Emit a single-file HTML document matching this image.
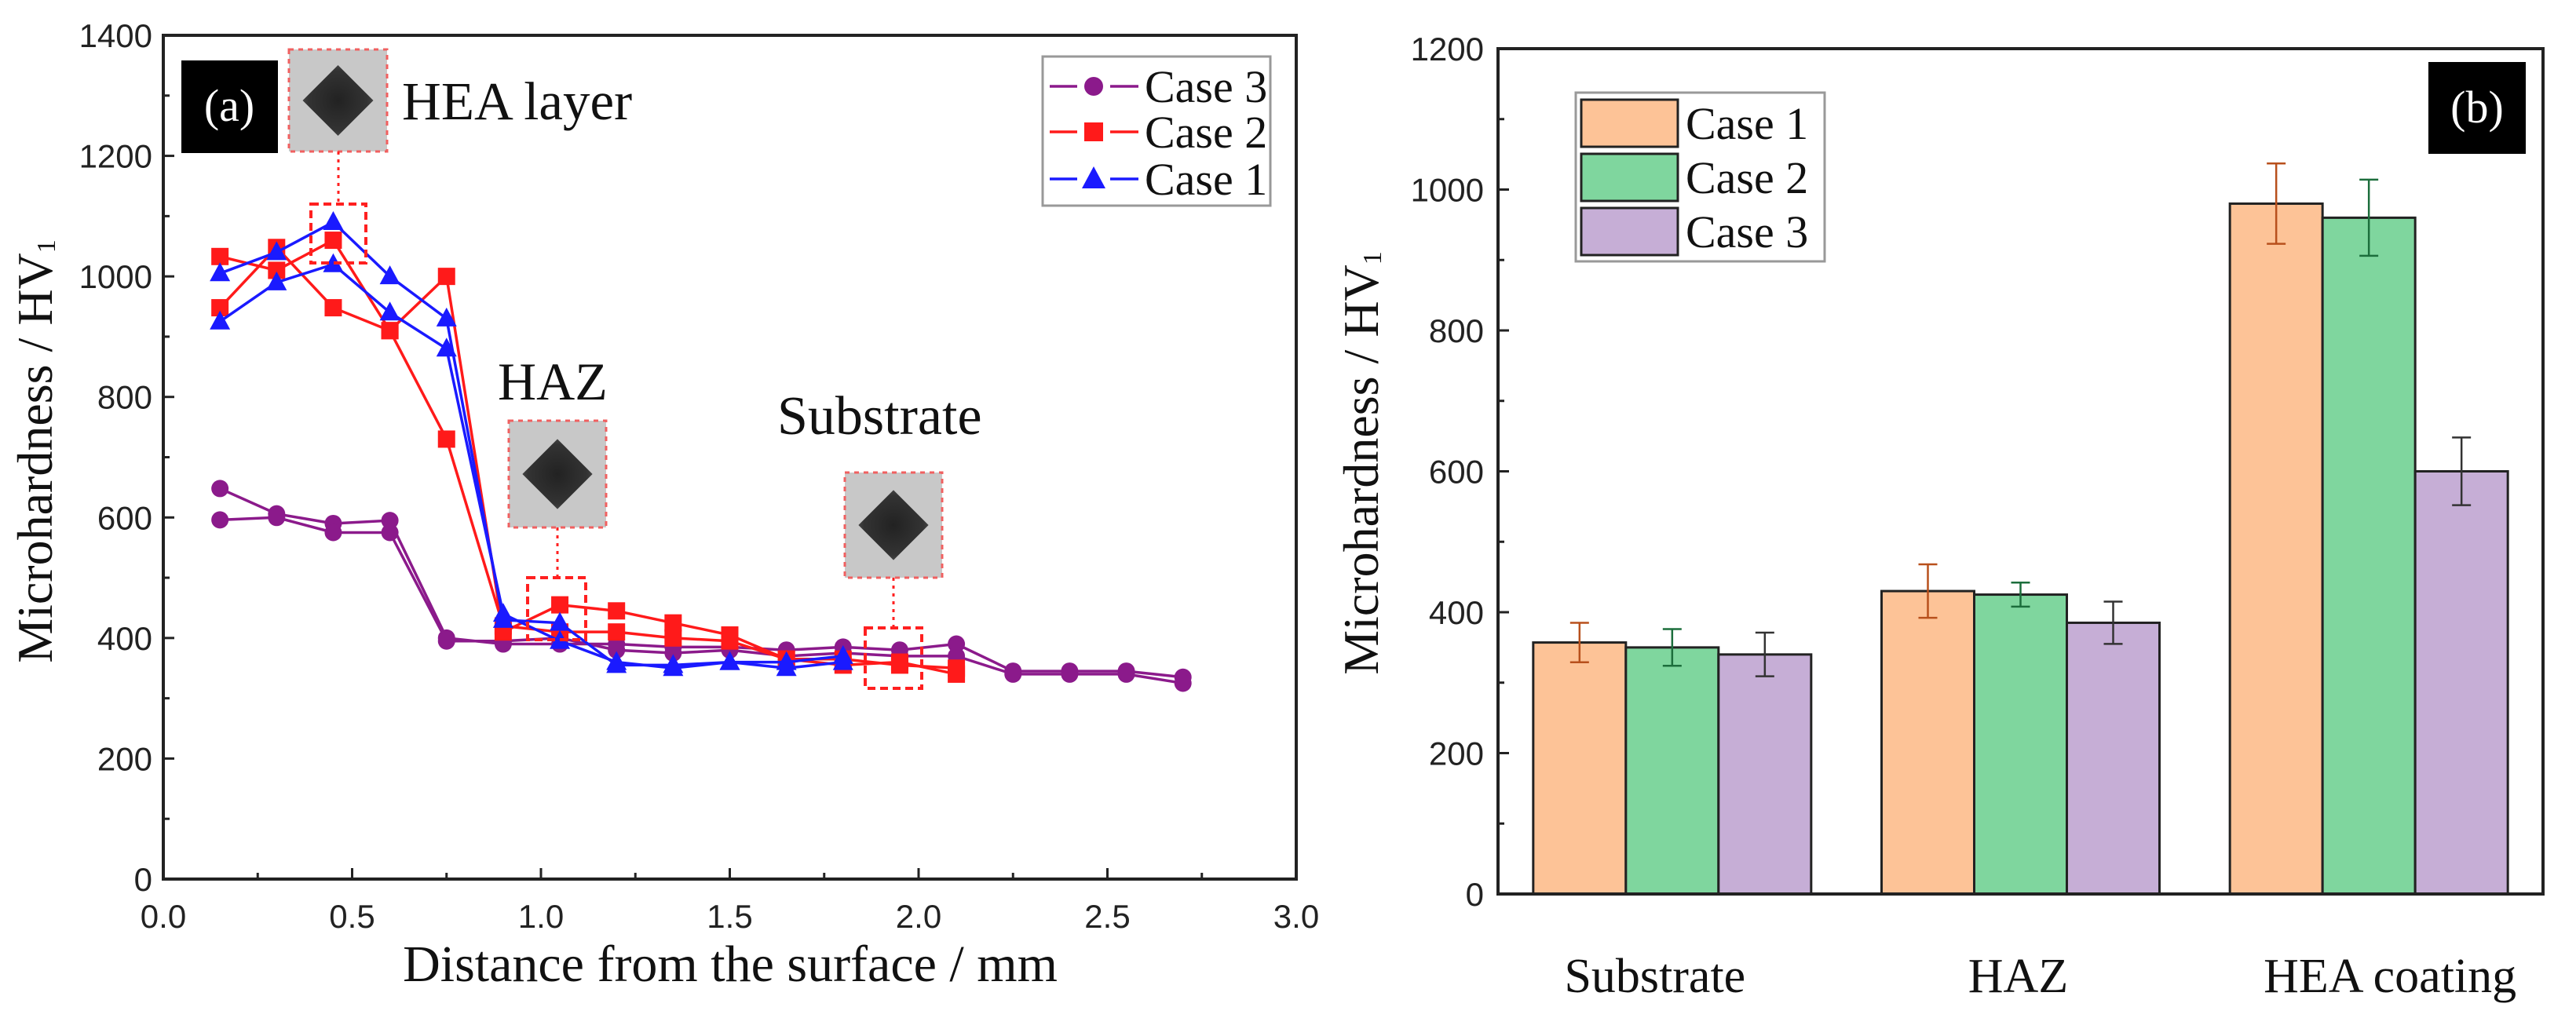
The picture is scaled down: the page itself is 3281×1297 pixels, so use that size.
<!DOCTYPE html>
<html><head><meta charset="utf-8"><style>
html,body{margin:0;padding:0;background:#fff;}
svg{display:block;}
.tk{font-family:"Liberation Sans",sans-serif;font-size:42px;fill:#222;}
.sf{font-family:"Liberation Serif",serif;fill:#111;}
</style></head><body>
<svg id="c" width="3281" height="1297" viewBox="0 0 3281 1297" xmlns="http://www.w3.org/2000/svg">
<defs>
<radialGradient id="dg" cx="50%" cy="50%" r="60%"><stop offset="0" stop-color="#222"/><stop offset="0.7" stop-color="#333"/><stop offset="1" stop-color="#555"/></radialGradient>
</defs>
</svg>
<script>
// ---- Chart (a) data ----
const xVals = [0.15,0.3,0.45,0.6,0.75,0.9,1.05,1.2,1.35,1.5,1.65,1.8,1.95,2.1,2.25,2.4,2.55,2.7];
const case3A = [648,606,590,595,400,390,390,390,385,385,380,385,380,390,345,345,345,335];
const case3B = [596,600,575,575,395,395,400,380,375,380,370,375,370,370,340,340,340,325];
const case2A = [1033,1010,1060,910,1000,410,455,445,425,405,365,355,360,340];
const case2B = [948,1048,948,910,730,420,410,410,400,395,365,365,355,350];
const case1A = [1005,1040,1090,1000,930,430,425,355,355,360,350,360];
const case1B = [925,990,1020,940,880,440,395,360,350,360,360,370];
const xTicksA = [0,0.5,1.0,1.5,2.0,2.5,3.0];
const xTickLabelsA = ["0.0","0.5","1.0","1.5","2.0","2.5","3.0"];
const yTicksA = [0,200,400,600,800,1000,1200,1400];
// ---- Chart (b) data ----
const categories = ["Substrate","HAZ","HEA coating"];
const barCase1 = [357,430,980];
const barCase2 = [350,425,960];
const barCase3 = [340,385,600];
const errCase1 = [28,38,57];
const errCase2 = [26,17,54];
const errCase3 = [31,30,48];
const yTicksB = [0,200,400,600,800,1000,1200];

const NS="http://www.w3.org/2000/svg";
const svg=document.getElementById('c');
function mk(tag,attrs,parent,text){const e=document.createElementNS(NS,tag);for(const k in attrs)e.setAttribute(k,attrs[k]);if(text!==undefined)e.textContent=text;(parent||svg).appendChild(e);return e;}

// ===== Chart (a) =====
const AL=208,AR=1651,AT=45,AB=1120;
const ax=v=>AL+(v/3.0)*(AR-AL);
const ay=v=>AB-(v/1400)*(AB-AT);
let g=mk('g',{});


mk('rect',{x:AL,y:AT,width:AR-AL,height:AB-AT,fill:'none',stroke:'#222','stroke-width':4},g);
for(let i=0;i<xTicksA.length;i++){
  const x=ax(xTicksA[i]);
  mk('line',{x1:x,y1:AB,x2:x,y2:AB-14,stroke:'#222','stroke-width':3},g);
  const t=mk('text',{x:x,y:AB+62,'text-anchor':'middle',class:'tk'},g,xTickLabelsA[i]);
  
  
  if(i<xTicksA.length-1){const xm=ax(xTicksA[i]+0.25);mk('line',{x1:xm,y1:AB,x2:xm,y2:AB-8,stroke:'#222','stroke-width':3},g);}
}
for(let i=0;i<yTicksA.length;i++){
  const y=ay(yTicksA[i]);
  mk('line',{x1:AL,y1:y,x2:AL+14,y2:y,stroke:'#222','stroke-width':3},g);
  const t=mk('text',{x:AL-14,y:y+15,'text-anchor':'end',class:'tk'},g,String(yTicksA[i]));
  
  
  if(i<yTicksA.length-1){const ym=ay(yTicksA[i]+100);mk('line',{x1:AL,y1:ym,x2:AL+8,y2:ym,stroke:'#222','stroke-width':3},g);}
}
let t=mk('text',{x:930,y:1250,'text-anchor':'middle',class:'sf','font-size':66},svg,'Distance from the surface / mm');


t=mk('text',{x:0,y:0,'text-anchor':'middle',class:'sf','font-size':64,transform:'translate(66,575) rotate(-90)'},svg,'');


t.textContent='Microhardness / HV';
mk('tspan',{'font-size':34,dy:4},t,'1');

function series(vals,color,marker,name){
  const sg=mk('g',{});
  
  
  const pts=vals.map((v,i)=>ax(xVals[i])+','+ay(v)).join(' ');
  mk('polyline',{points:pts,fill:'none',stroke:color,'stroke-width':3.5},sg);
  vals.forEach((v,i)=>{const x=ax(xVals[i]),y=ay(v);
    let m;
    if(marker==='c')m=mk('circle',{cx:x,cy:y,r:11,fill:color},sg);
    else if(marker==='s')m=mk('rect',{x:x-11,y:y-11,width:22,height:22,fill:color},sg);
    else m=mk('polygon',{points:`${x},${y-14} ${x-13},${y+10} ${x+13},${y+10}`,fill:color},sg);
    
    
  });
}
series(case3A,'#8b1a8b','c','series-case3-a');
series(case3B,'#8b1a8b','c','series-case3-b');
series(case2A,'#ff1a1a','s','series-case2-a');
series(case2B,'#ff1a1a','s','series-case2-b');
series(case1A,'#1a1aff','t','series-case1-a');
series(case1B,'#1a1aff','t','series-case1-b');

// annotations
function inset(x,y,w,h,name){
  const ig=mk('g',{});
  
  
  mk('rect',{x:x,y:y,width:w,height:h,fill:'#c8c8c8',stroke:'#f06060','stroke-width':3,'stroke-dasharray':'6,6'},ig);
  const cx=x+w/2,cy=y+h/2,r=Math.min(w,h)*0.36;
  mk('polygon',{points:`${cx},${cy-r} ${cx+r},${cy} ${cx},${cy+r} ${cx-r},${cy}`,fill:'url(#dg)'},ig);
}
function dbox(x,y,w,h,lx,ly1,ly2,name){
  const b=mk('rect',{x:x,y:y,width:w,height:h,fill:'none',stroke:'#ff2020','stroke-width':4,'stroke-dasharray':'10,6'});
  
  
  mk('line',{x1:lx,y1:ly1,x2:lx,y2:ly2,stroke:'#ff2020','stroke-width':3,'stroke-dasharray':'4,6'});
}
inset(368,63,125,130,'hea-layer-inset');
dbox(396,260,70,75,431,193,260,'hea-layer-highlight');
inset(648,536,124,136,'haz-inset');
dbox(672,736,74,79,710,672,736,'haz-highlight');
inset(1076,602,124,134,'substrate-inset');
dbox(1102,800,72,77,1138,736,800,'substrate-highlight');
t=mk('text',{x:512,y:152,class:'sf','font-size':69},svg,'HEA layer');


t=mk('text',{x:634,y:509,class:'sf','font-size':68},svg,'HAZ');


t=mk('text',{x:990,y:553,class:'sf','font-size':70},svg,'Substrate');


let pb=mk('g',{});


mk('rect',{x:231,y:77,width:123,height:118,fill:'#000'},pb);
mk('text',{x:292,y:154,'text-anchor':'middle',class:'sf','font-size':58,style:'fill:#fff'},pb,'(a)');

// legend a
let lg=mk('g',{});


mk('rect',{x:1328,y:72,width:290,height:190,fill:'#fff',stroke:'#999','stroke-width':3},lg);
const legA=[['Case 3','#8b1a8b','c',110],['Case 2','#ff1a1a','s',168],['Case 1','#1a1aff','t',228]];
legA.forEach(([lab,col,mkr,y])=>{
  const e=mk('g',{},lg);
  
  
  mk('line',{x1:1337,y1:y,x2:1372,y2:y,stroke:col,'stroke-width':3.5},e);
  mk('line',{x1:1414,y1:y,x2:1450,y2:y,stroke:col,'stroke-width':3.5},e);
  const x=1393;
  if(mkr==='c')mk('circle',{cx:x,cy:y,r:12,fill:col},e);
  else if(mkr==='s')mk('rect',{x:x-12,y:y-12,width:24,height:24,fill:col},e);
  else mk('polygon',{points:`${x},${y-16} ${x-15},${y+12} ${x+15},${y+12}`,fill:col},e);
  mk('text',{x:1458,y:y+20,class:'sf','font-size':58},e,lab);
});

// ===== Chart (b) =====
const BL=1908,BR=3239,BT=62,BB=1139;
const by=v=>BB-(v/1200)*(BB-BT);
const band=(BR-BL)/categories.length;
const bw=118;
g=mk('g',{});


for(let i=0;i<yTicksB.length;i++){
  const y=by(yTicksB[i]);
  mk('line',{x1:BL,y1:y,x2:BL+14,y2:y,stroke:'#222','stroke-width':3},g);
  const tt=mk('text',{x:BL-18,y:y+15,'text-anchor':'end',class:'tk'},g,String(yTicksB[i]));
  
  
  if(i<yTicksB.length-1){const ym=by(yTicksB[i]+100);mk('line',{x1:BL,y1:ym,x2:BL+8,y2:ym,stroke:'#222','stroke-width':3},g);}
}
const seriesB=[[barCase1,errCase1,'#fdc397','#b8501c','bar-case1'],[barCase2,errCase2,'#7fd69e','#1c6e3c','bar-case2'],[barCase3,errCase3,'#c6aed6','#333','bar-case3']];
categories.forEach((cat,ci)=>{
  const cx=BL+band*(ci+0.5);
  seriesB.forEach(([vals,errs,fill,ec,name],si)=>{
    const x=cx+(si-1.5)*bw;
    const r=mk('rect',{x:x,y:by(vals[ci]),width:bw,height:BB-by(vals[ci]),fill:fill,stroke:'#222','stroke-width':3});
    
    
    const ex=x+bw/2,y1=by(vals[ci]+errs[ci]),y2=by(vals[ci]-errs[ci]);
    const eg=mk('g',{stroke:ec,'stroke-width':2.5});
    
    
    mk('line',{x1:ex,y1:y1,x2:ex,y2:y2},eg);
    mk('line',{x1:ex-12,y1:y1,x2:ex+12,y2:y1},eg);
    mk('line',{x1:ex-12,y1:y2,x2:ex+12,y2:y2},eg);
  });
  const tt=mk('text',{x:cx-(ci===0?22:ci===1?3:-27),y:1264,'text-anchor':'middle',class:'sf','font-size':62},svg,cat);
  
  
});
mk('rect',{x:BL,y:BT,width:BR-BL,height:BB-BT,fill:'none',stroke:'#222','stroke-width':4},g);
svg.appendChild(g);
t=mk('text',{x:0,y:0,'text-anchor':'middle',class:'sf','font-size':64,transform:'translate(1755,590) rotate(-90)'},svg,'Microhardness / HV');


mk('tspan',{'font-size':34,dy:4},t,'1');
pb=mk('g',{});


mk('rect',{x:3093,y:79,width:124,height:117,fill:'#000'},pb);
mk('text',{x:3155,y:156,'text-anchor':'middle',class:'sf','font-size':58,style:'fill:#fff'},pb,'(b)');
lg=mk('g',{});


mk('rect',{x:2007,y:118,width:317,height:215,fill:'#fff',stroke:'#999','stroke-width':3},lg);
[['Case 1','#fdc397',127],['Case 2','#7fd69e',196],['Case 3','#c6aed6',265]].forEach(([lab,col,y])=>{
  const e=mk('g',{},lg);
  
  
  mk('rect',{x:2014,y:y,width:123,height:60,fill:col,stroke:'#222','stroke-width':3},e);
  mk('text',{x:2147,y:y+50,class:'sf','font-size':58},e,lab);
});
</script>
</body></html>
